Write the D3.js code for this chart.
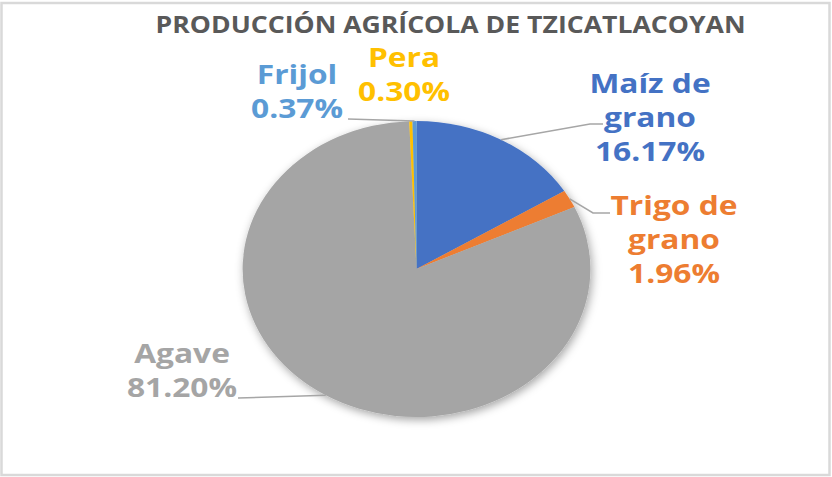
<!DOCTYPE html>
<html>
<head>
<meta charset="utf-8">
<script src="https://cdn.jsdelivr.net/npm/d3@7"></script>
<style>
  body { margin: 0; background: #fff; }
  svg { display: block; }
  text { font-family: "Open Sans", sans-serif; font-weight: 700; }
</style>
</head>
<body>
<script>
var width = 832;
var height = 477;

// data
var categories = ['Maíz de grano', 'Trigo de grano', 'Agave', 'Pera', 'Frijol'];
var values = [16.17, 1.96, 81.20, 0.30, 0.37];
var colors = ['#4472C4', '#ED7D31', '#A5A5A5', '#FFC000', '#5B9BD5'];
var titleText = 'PRODUCCIÓN AGRÍCOLA DE TZICATLACOYAN';

// label layout (line breaks, text centre, first baseline, leader elbow / end)
var labelLines = [['Maíz de', 'grano'], ['Trigo de', 'grano'], ['Agave'], ['Pera'], ['Frijol']];
var labelAt = [[650, 93], [674, 215], [182, 363], [404, 67], [297, 84]];
var leaderPts = [[[590, 124], [603, 124]], [[593, 213], [610, 213]], [[238, 398]], null, [[348, 119]]];

// the picture is stretched sideways, so everything is drawn squeezed then scaled
var sx = 1.175;
var cx = 416.5, cy = 269, radius = 148;
var lineGap = 34;

var svg = d3.select('body').append('svg')
  .attr('width', width)
  .attr('height', height);

// frame
svg.append('rect')
  .attr('x', 1.5).attr('y', 3)
  .attr('width', width - 4).attr('height', height - 5)
  .attr('fill', '#fff')
  .attr('stroke', '#D9D9D9')
  .attr('stroke-width', 2.5);

var defs = svg.append('defs');
var filter = defs.append('filter').attr('id', 'shadow')
  .attr('x', '-20%').attr('y', '-20%').attr('width', '140%').attr('height', '140%');
filter.append('feDropShadow')
  .attr('dx', 1.5).attr('dy', 3)
  .attr('stdDeviation', 4)
  .attr('flood-color', '#000')
  .attr('flood-opacity', 0.35);

// title
svg.append('g')
  .attr('transform', 'translate(450.5,33) scale(' + sx + ',1)')
  .append('text')
  .attr('text-anchor', 'middle')
  .attr('font-size', 22.4)
  .attr('fill', '#595959')
  .attr('textLength', 590 / sx)
  .attr('lengthAdjust', 'spacingAndGlyphs')
  .text(titleText);

// pie
var pie = d3.pie().sort(null).value(function(d) { return d; });
var arcs = pie(values);
var arc = d3.arc().innerRadius(0).outerRadius(radius);

var pieG = svg.append('g')
  .attr('transform', 'translate(' + cx + ',' + cy + ') scale(' + sx + ',1)')
  .attr('filter', 'url(#shadow)');

pieG.selectAll('path')
  .data(arcs)
  .enter()
  .append('path')
  .attr('d', arc)
  .attr('fill', function(d, i) { return colors[i]; });

// leader lines, starting from the slice's outer edge
function edgePoint(d) {
  var a = (d.startAngle + d.endAngle) / 2;
  return [cx + Math.sin(a) * radius * sx, cy - Math.cos(a) * radius];
}

var line = d3.line();
svg.selectAll('path.leader')
  .data(arcs.filter(function(d, i) { return leaderPts[i]; }))
  .enter()
  .append('path')
  .attr('class', 'leader')
  .attr('d', function(d) { return line([edgePoint(d)].concat(leaderPts[d.index])); })
  .attr('fill', 'none')
  .attr('stroke', '#A6A6A6')
  .attr('stroke-width', 1.6);

// data labels
var fmt = d3.format('.2f');
var labels = svg.selectAll('g.label')
  .data(arcs)
  .enter()
  .append('g')
  .attr('class', 'label')
  .attr('transform', function(d, i) {
    return 'translate(' + labelAt[i][0] + ',' + labelAt[i][1] + ') scale(' + sx + ',1)';
  });

labels.append('text')
  .attr('text-anchor', 'middle')
  .attr('font-size', 27)
  .attr('fill', function(d, i) { return colors[i]; })
  .selectAll('tspan')
  .data(function(d, i) { return labelLines[i].concat([fmt(d.data) + '%']); })
  .enter()
  .append('tspan')
  .attr('x', 0)
  .attr('y', function(d, j) { return j * lineGap; })
  .text(function(d) { return d; });
</script>
</body>
</html>
